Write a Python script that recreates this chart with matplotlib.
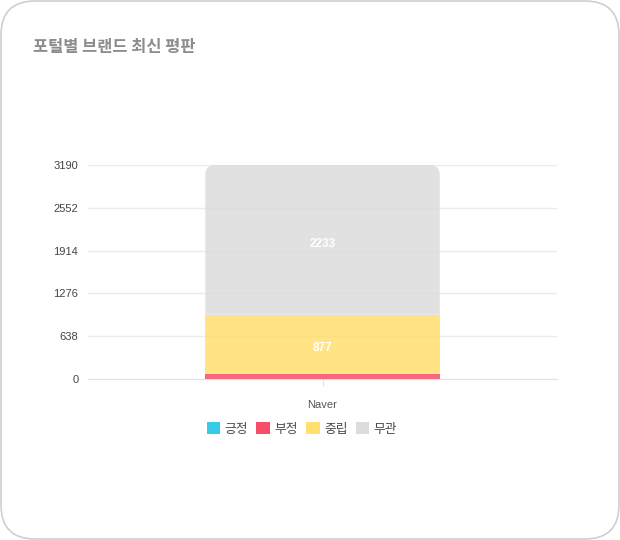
import matplotlib
matplotlib.use("Agg")
import matplotlib.pyplot as plt
from matplotlib.patches import FancyBboxPatch, PathPatch, Patch
from matplotlib.path import Path

plt.rcParams['font.family'] = ['Liberation Sans', 'Noto Sans CJK KR', 'DejaVu Sans']

title = "포털별 브랜드 최신 평판"
categories = ["Naver"]
series_names = ["긍정", "부정", "중립", "무관"]
series_values = {
    "긍정": [0],
    "부정": [80],
    "중립": [877],
    "무관": [2233],
}
yticks = [0, 638, 1276, 1914, 2552, 3190]
colors = {"긍정": "#36cbe8", "부정": "#f64d69", "중립": "#ffdf6e", "무관": "#dcdcdc"}
bar_alpha = 0.85

W, H = 620, 540
fig = plt.figure(figsize=(W / 100, H / 100), dpi=100)

# card background
bg = fig.add_axes([0, 0, 1, 1])
bg.set_xlim(0, W)
bg.set_ylim(0, H)
bg.axis("off")
bg.add_patch(FancyBboxPatch((1.0, 1.0), W - 2, H - 2,
                            boxstyle="round,pad=0,rounding_size=34",
                            fc="white", ec="#cfcfcf", lw=1.2))
bg.text(33, H - 47, title, fontsize=11.8, color="#8c8c8c", weight="bold",
        va="center", ha="left", family=['Noto Sans CJK KR'])

L, R, T, B = 88, 557, 165, 379
ax = fig.add_axes([L / W, (H - B) / H, (R - L) / W, (B - T) / H])
ax.set_facecolor("none")

x = list(range(len(categories)))
bottoms = [0] * len(categories)
bars = {}
for name in series_names:
    vals = series_values[name]
    bars[name] = ax.bar(x, vals, width=0.5, bottom=bottoms, color=colors[name],
                        alpha=bar_alpha, lw=0, zorder=3)
    bottoms = [b + v for b, v in zip(bottoms, vals)]

ax.set_xlim(-0.5, 0.5)
ax.set_ylim(0, yticks[-1])
ax.set_yticks(yticks)
ax.set_yticklabels([str(t) for t in yticks])
ax.set_xticks(x)
ax.set_xticklabels(categories)

# rounded top corners on the top segment
rpx = 10
rx = rpx / (R - L) * 1.0
ry = rpx / (B - T) * yticks[-1]
for rect in bars["무관"]:
    x0, y0 = rect.get_x(), rect.get_y()
    x1, y1 = x0 + rect.get_width(), y0 + rect.get_height()
    verts = [(x0, y0), (x0, y1 - ry), (x0, y1), (x0 + rx, y1), (x1 - rx, y1),
             (x1, y1), (x1, y1 - ry), (x1, y0), (x0, y0)]
    codes = [Path.MOVETO, Path.LINETO, Path.CURVE3, Path.CURVE3, Path.LINETO,
             Path.CURVE3, Path.CURVE3, Path.LINETO, Path.CLOSEPOLY]
    clip = PathPatch(Path(verts, codes), transform=ax.transData, fc="none", ec="none")
    ax.add_patch(clip)
    rect.set_clip_path(clip)

# data labels
bottoms = [0] * len(categories)
for name in series_names:
    vals = series_values[name]
    for i, v in enumerate(vals):
        if v >= 300:
            ax.text(x[i], bottoms[i] + v / 2 - 60, str(v), ha="center", va="center",
                    color="white", fontsize=8.5, weight="bold", zorder=5)
    bottoms = [b + v for b, v in zip(bottoms, vals)]

ax.grid(axis="y", color="#ebebeb", lw=1, zorder=0)
for s in ["top", "right", "left"]:
    ax.spines[s].set_visible(False)
ax.spines["bottom"].set_color("#e3e3e3")
ax.tick_params(axis="y", length=0, pad=7, labelsize=8, labelcolor="#444444")
ax.tick_params(axis="x", length=5, color="#e3e3e3", pad=10, labelsize=8, labelcolor="#555555")

handles = [Patch(facecolor=colors[n], edgecolor="none") for n in series_names]
leg = ax.legend(handles, series_names, loc="center", ncol=4,
                bbox_to_anchor=((302 - L) / (R - L), (B - 429) / (B - T)),
                frameon=False, fontsize=9.2, handlelength=1.05, handleheight=1.05,
                handletextpad=0.35, columnspacing=0.65, borderaxespad=0)
for t in leg.get_texts():
    t.set_color("#4a4a4a")

fig.savefig("out.png", dpi=100)
